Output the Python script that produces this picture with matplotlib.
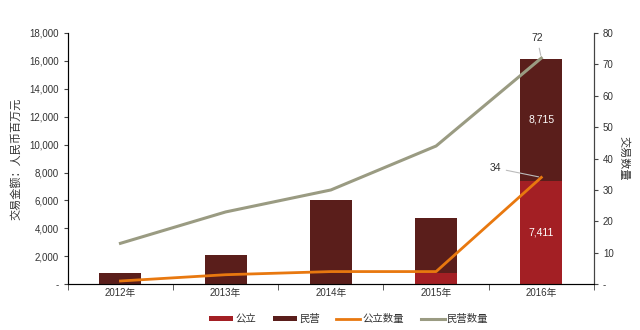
import numpy as np
import matplotlib
matplotlib.use("Agg")
import matplotlib.pyplot as plt
from matplotlib.ticker import FuncFormatter

plt.rcParams['font.family'] = ['Liberation Sans', 'Noto Sans CJK SC', 'DejaVu Sans']

years = ['2012年', '2013年', '2014年', '2015年', '2016年']
gongli_amt = [0, 0, 0, 810, 7411]
minying_amt = [800, 2100, 6000, 3950, 8715]
gongli_cnt = [1, 3, 4, 4, 34]
minying_cnt = [13, 23, 30, 44, 72]

c_gongli = '#A31F24'
c_minying = '#5A1E1B'
c_orange = '#E8780F'
c_gray = '#9A9B82'
c_text = '#333333'

fig = plt.figure(figsize=(6.4, 3.3), dpi=100)
ax = fig.add_axes([0.106, 0.139, 0.822, 0.761])
x = np.arange(len(years))

ax.bar(x, gongli_amt, 0.4, color=c_gongli, label='公立', zorder=2)
ax.bar(x, minying_amt, 0.4, bottom=gongli_amt, color=c_minying, label='民营', zorder=2)
ax.set_ylim(0, 18000)
ax.set_xlim(-0.5, 4.5)
ax.set_yticks(np.arange(0, 18001, 2000))
ax.yaxis.set_major_formatter(FuncFormatter(lambda v, p: '-' if v == 0 else f'{int(v):,}'))
ax.set_xticks(x)
ax.set_xticklabels(years)
ax.set_xticks(np.arange(-0.5, 4.6, 1), minor=True)
ax.tick_params(axis='x', which='major', length=0, labelsize=7, pad=3, labelcolor=c_text)
ax.tick_params(axis='x', which='minor', length=4, direction='out', color='#444444')
ax.tick_params(axis='y', labelsize=7, length=3, color='#444444', labelcolor=c_text)
ax.set_ylabel('交易金额：人民币百万元', fontsize=8, color=c_text, labelpad=6)
ax.spines['top'].set_visible(False)
for s in ['left', 'bottom', 'right']:
    ax.spines[s].set_color('#444444')

ax.text(x[4], gongli_amt[4] / 2, f'{gongli_amt[4]:,}', color='white', ha='center', va='center', fontsize=7.5)
ax.text(x[4], gongli_amt[4] + minying_amt[4] / 2, f'{minying_amt[4]:,}', color='white', ha='center', va='center', fontsize=7.5)

ax2 = ax.twinx()
ax2.plot(x, gongli_cnt, color=c_orange, lw=2, label='公立数量', zorder=3)
ax2.plot(x, minying_cnt, color=c_gray, lw=2.2, label='民营数量', zorder=3)
ax2.set_ylim(0, 80)
ax2.set_yticks(np.arange(0, 81, 10))
ax2.yaxis.set_major_formatter(FuncFormatter(lambda v, p: '-' if v == 0 else f'{int(v)}'))
ax2.tick_params(axis='y', labelsize=7, length=3, color='#444444', labelcolor=c_text)
ax2.set_ylabel('交易数量', fontsize=8, rotation=270, labelpad=11, color=c_text)
ax2.spines['top'].set_visible(False)
ax2.spines['right'].set_color('#444444')

ax2.annotate(str(minying_cnt[4]), xy=(x[4], minying_cnt[4]), xytext=(x[4] - 0.04, minying_cnt[4] + 6.5),
             ha='center', va='center', fontsize=7.5, color=c_text,
             arrowprops=dict(arrowstyle='-', color='#bbbbbb', lw=0.8))
ax2.annotate(str(gongli_cnt[4]), xy=(x[4], gongli_cnt[4]), xytext=(x[4] - 0.44, gongli_cnt[4] + 3),
             ha='center', va='center', fontsize=7.5, color=c_text,
             arrowprops=dict(arrowstyle='-', color='#bbbbbb', lw=0.8))

h1, l1 = ax.get_legend_handles_labels()
h2, l2 = ax2.get_legend_handles_labels()
fig.legend(h1 + h2, l1 + l2, loc='lower center', bbox_to_anchor=(0.545, -0.01), ncol=4,
           frameon=False, fontsize=7.5, handlelength=2.3, handleheight=0.4, columnspacing=1.6,
           handletextpad=0.2, labelcolor=c_text)

fig.savefig('out.png', dpi=100)
